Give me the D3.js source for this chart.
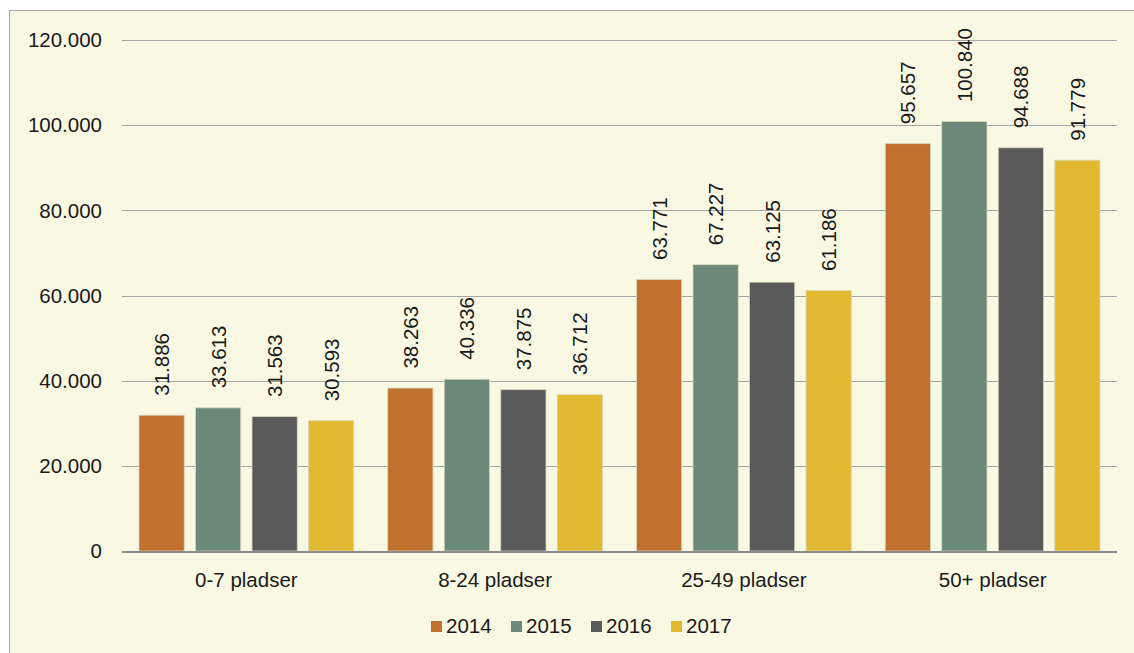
<!DOCTYPE html>
<html><head><meta charset="utf-8">
<script src="https://cdn.jsdelivr.net/npm/d3@7"></script>
<style>body{margin:0;background:#fff;}svg{display:block;font-family:"Liberation Sans",Arial,sans-serif;}</style>
</head><body>
<svg id="c" width="1134" height="653"></svg>
<script>
const categories = ["0-7 pladser","8-24 pladser","25-49 pladser","50+ pladser"];
const years = ["2014","2015","2016","2017"];
const v2014 = [31886, 38263, 63771, 95657];
const v2015 = [33613, 40336, 67227, 100840];
const v2016 = [31563, 37875, 63125, 94688];
const v2017 = [30593, 36712, 61186, 91779];
const yTicks = [0,20000,40000,60000,80000,100000,120000];
const colors = ["#C0702F","#6B8878","#595959","#E2BA31"];
const series = [v2014,v2015,v2016,v2017];
const FS = 20.5;

const svg = d3.select("#c");
svg.append("rect").attr("x",9.5).attr("y",10.5).attr("width",1140).attr("height",660)
  .attr("fill","#F8F8E3").attr("stroke","#A6A6A6").attr("stroke-width",1);

const L=122,R=1117,T=40,B=551;
const y = d3.scaleLinear().domain([0,120000]).range([B,T]);
const x0 = d3.scaleBand().domain(categories).range([L,R]).paddingInner(0).paddingOuter(0);
const x1 = d3.scaleBand().domain(years).range([17,x0.bandwidth()-17]).paddingInner(0.2).paddingOuter(0);
const fmt = d3.formatLocale({decimal:",",thousands:".",grouping:[3]}).format(",d");

const g = svg.append("g");
g.selectAll("line.grid").data(yTicks.filter(d=>d>0)).join("line")
  .attr("x1",L).attr("x2",R).attr("y1",d=>Math.round(y(d))+0.5).attr("y2",d=>Math.round(y(d))+0.5)
  .attr("stroke","#A6A6A6").attr("stroke-width",1);
g.selectAll("text.yt").data(yTicks).join("text")
  .attr("x",102).attr("y",d=>y(d)).attr("dy","0.35em").attr("text-anchor","end")
  .attr("font-size",FS).attr("fill","#1a1a1a").text(d=>d===0?"0":fmt(d));

const groups = g.selectAll("g.cat").data(categories).join("g")
  .attr("transform",d=>`translate(${x0(d)},0)`);
groups.each(function(cat,ci){
  const gg=d3.select(this);
  years.forEach((yr,si)=>{
    const val=series[si][ci];
    gg.append("rect").attr("x",x1(yr)).attr("width",x1.bandwidth())
      .attr("y",y(val)).attr("height",B-y(val)).attr("fill",colors[si])
      .attr("stroke","#D9D6B8").attr("stroke-width",0.8);
    const cx=x1(yr)+x1.bandwidth()/2;
    gg.append("text").attr("transform",`translate(${cx+7.5},${y(val)-19.5}) rotate(-90)`)
      .attr("text-anchor","start").attr("font-size",FS).attr("fill","#1a1a1a").text(fmt(val));
  });
  gg.append("text").attr("x",x0.bandwidth()/2).attr("y",587).attr("text-anchor","middle")
    .attr("font-size",FS).attr("fill","#1a1a1a").text(cat);
});
g.append("line").attr("x1",L).attr("x2",R).attr("y1",B+1).attr("y2",B+1)
  .attr("stroke","#8C8C8C").attr("stroke-width",2);

const leg = svg.append("g");
years.forEach((yr,i)=>{
  const lx=431+i*80;
  leg.append("rect").attr("x",lx).attr("y",621).attr("width",11).attr("height",11).attr("fill",colors[i]);
  leg.append("text").attr("x",lx+15).attr("y",633).attr("font-size",FS)
    .attr("fill","#1a1a1a").text(yr);
});
</script>
</body></html>
